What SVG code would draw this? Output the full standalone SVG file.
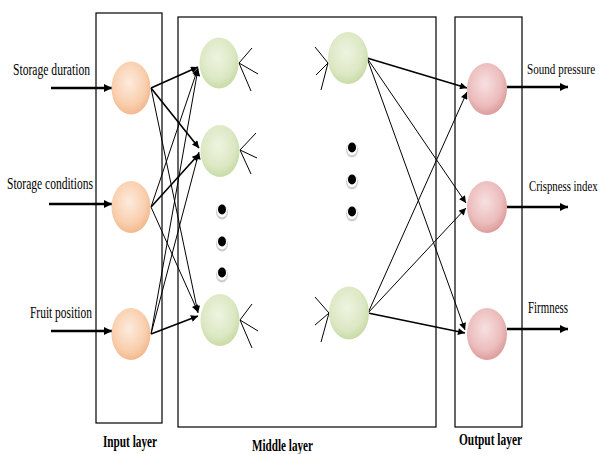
<svg xmlns="http://www.w3.org/2000/svg" width="602" height="454" viewBox="0 0 602 454">
<defs>
<radialGradient id="gIn" cx="45%" cy="40%" r="60%"><stop offset="0" stop-color="#fdebdd"/><stop offset="0.7" stop-color="#f9cfae"/><stop offset="1" stop-color="#f2b98f"/></radialGradient>
<radialGradient id="gHid" cx="45%" cy="40%" r="60%"><stop offset="0" stop-color="#eef4e0"/><stop offset="0.7" stop-color="#dce8c4"/><stop offset="1" stop-color="#c9dca6"/></radialGradient>
<radialGradient id="gOut" cx="45%" cy="40%" r="60%"><stop offset="0" stop-color="#f7e0e0"/><stop offset="0.7" stop-color="#ecbcbc"/><stop offset="1" stop-color="#dd9c9c"/></radialGradient>
<marker id="big" viewBox="0 0 10 10" refX="10" refY="5" markerWidth="9" markerHeight="8" markerUnits="userSpaceOnUse" orient="auto"><path d="M0,0 L10,5 L0,10 z" fill="#000"/></marker>
<marker id="sm" viewBox="0 0 10 10" refX="10" refY="5" markerWidth="8" markerHeight="7" markerUnits="userSpaceOnUse" orient="auto"><path d="M0,0 L10,5 L0,10 z" fill="#000"/></marker>
<g id="dot"><ellipse cx="0" cy="2" rx="6" ry="7.5" fill="#cfcfcf"/><ellipse cx="0" cy="1" rx="5" ry="6.2" fill="#fff"/><ellipse cx="0" cy="-0.5" rx="4" ry="5" fill="#000"/></g>
</defs>
<style>
.box{fill:none;stroke:#000;stroke-width:1.2}
.lbl{font-family:"Liberation Serif","Times New Roman",serif;font-size:16px;fill:#000}
.lbs{font-family:"Liberation Serif","Times New Roman",serif;font-size:15px;fill:#000}
.ttl{font-family:"Liberation Serif","Times New Roman",serif;font-size:16px;font-weight:bold;fill:#000}
.io{stroke:#000;stroke-width:2.5;fill:none;marker-end:url(#big)}
.c{stroke:#000;stroke-width:1;fill:none;marker-end:url(#sm)}
.cb{stroke:#000;stroke-width:1.6;fill:none;marker-end:url(#sm)}
.fan{stroke:#000;stroke-width:1;fill:none}
.nIn{fill:url(#gIn)}
.nHid{fill:url(#gHid)}
.nOut{fill:url(#gOut)}
</style>
<rect width="602" height="454" fill="#fff"/>

<g id="layers">
<rect class="box" x="96" y="13" width="66" height="410"/>
<rect class="box" x="178" y="17" width="258" height="410"/>
<rect class="box" x="455" y="17" width="67" height="410"/>
<text class="ttl" x="103" y="447" textLength="54" lengthAdjust="spacingAndGlyphs">Input layer</text>
<text class="ttl" x="252" y="451" textLength="61" lengthAdjust="spacingAndGlyphs">Middle layer</text>
<text class="ttl" x="459" y="445" textLength="63" lengthAdjust="spacingAndGlyphs">Output layer</text>
</g>

<g id="connectors">
<line class="io" x1="51" y1="88" x2="112" y2="88"/>
<line class="io" x1="49" y1="204" x2="112" y2="204"/>
<line class="io" x1="51" y1="331" x2="112" y2="331"/>
<line class="io" x1="507" y1="87" x2="568" y2="87"/>
<line class="io" x1="507" y1="207" x2="568" y2="207"/>
<line class="io" x1="507" y1="329" x2="568" y2="329"/>

<line class="cb" x1="151" y1="88" x2="198" y2="67"/>
<line class="cb" x1="151" y1="88" x2="199" y2="148"/>
<line class="c" x1="151" y1="88" x2="198" y2="313"/>
<line class="c" x1="151" y1="207" x2="198" y2="68"/>
<line class="cb" x1="151" y1="207" x2="199" y2="154"/>
<line class="c" x1="151" y1="207" x2="198" y2="312"/>
<line class="c" x1="151" y1="334" x2="198" y2="69"/>
<line class="c" x1="151" y1="334" x2="199" y2="152"/>
<line class="cb" x1="151" y1="334" x2="198" y2="316"/>

<line class="cb" x1="367" y1="58" x2="467" y2="88"/>
<line class="c" x1="367" y1="58" x2="466" y2="203"/>
<line class="c" x1="367" y1="58" x2="465" y2="330"/>
<line class="c" x1="368" y1="313" x2="467" y2="92"/>
<line class="c" x1="368" y1="313" x2="466" y2="208"/>
<line class="cb" x1="368" y1="313" x2="465" y2="333"/>

<path class="fan" d="M239,63 L252,48 M239,63 L258,74 M239,63 L251,91"/>
<path class="fan" d="M240,150 L256,133 M240,150 L257,158 M240,150 L251,174"/>
<path class="fan" d="M240,320 L252,304 M240,320 L258,331 M240,320 L252,348"/>
<path class="fan" d="M328,63 L315,47 M328,63 L316,75 M328,63 L321,90"/>
<path class="fan" d="M329,313 L315,297 M329,313 L315,325 M329,313 L321,342"/>
</g>

<g id="in1"><ellipse class="nIn" cx="131" cy="88" rx="19.5" ry="26.5"/><text class="lbl" x="13" y="75" textLength="77" lengthAdjust="spacingAndGlyphs">Storage duration</text></g>
<g id="in2"><ellipse class="nIn" cx="131" cy="207" rx="19.5" ry="26"/><text class="lbl" x="7" y="189" textLength="86" lengthAdjust="spacingAndGlyphs">Storage conditions</text></g>
<g id="in3"><ellipse class="nIn" cx="131" cy="334" rx="19.5" ry="26"/><text class="lbl" x="30" y="318" textLength="62" lengthAdjust="spacingAndGlyphs">Fruit position</text></g>

<g id="h1"><ellipse class="nHid" cx="219" cy="63" rx="19.5" ry="25.5"/></g>
<g id="h2"><ellipse class="nHid" cx="220" cy="151" rx="19.5" ry="26"/></g>
<g id="h3"><ellipse class="nHid" cx="220" cy="320" rx="19.5" ry="26"/></g>
<g id="h4"><ellipse class="nHid" cx="348" cy="58" rx="20" ry="26"/></g>
<g id="h5"><ellipse class="nHid" cx="349" cy="313" rx="20" ry="26.5"/></g>

<g id="dotsLeft"><use href="#dot" x="222" y="210"/><use href="#dot" x="222" y="242"/><use href="#dot" x="222" y="273"/></g>
<g id="dotsRight"><use href="#dot" x="352" y="148"/><use href="#dot" x="352" y="180"/><use href="#dot" x="352" y="212"/></g>

<g id="out1"><ellipse class="nOut" cx="487" cy="89" rx="20" ry="26"/><text class="lbs" transform="translate(527,74) scale(0.74,1)">Sound pressure</text></g>
<g id="out2"><ellipse class="nOut" cx="487" cy="207" rx="20" ry="26"/><text class="lbs" transform="translate(529,191) scale(0.72,1)">Crispness index</text></g>
<g id="out3"><ellipse class="nOut" cx="487" cy="334" rx="20" ry="26"/><text class="lbl" x="528" y="313" textLength="40" lengthAdjust="spacingAndGlyphs">Firmness</text></g>
</svg>
